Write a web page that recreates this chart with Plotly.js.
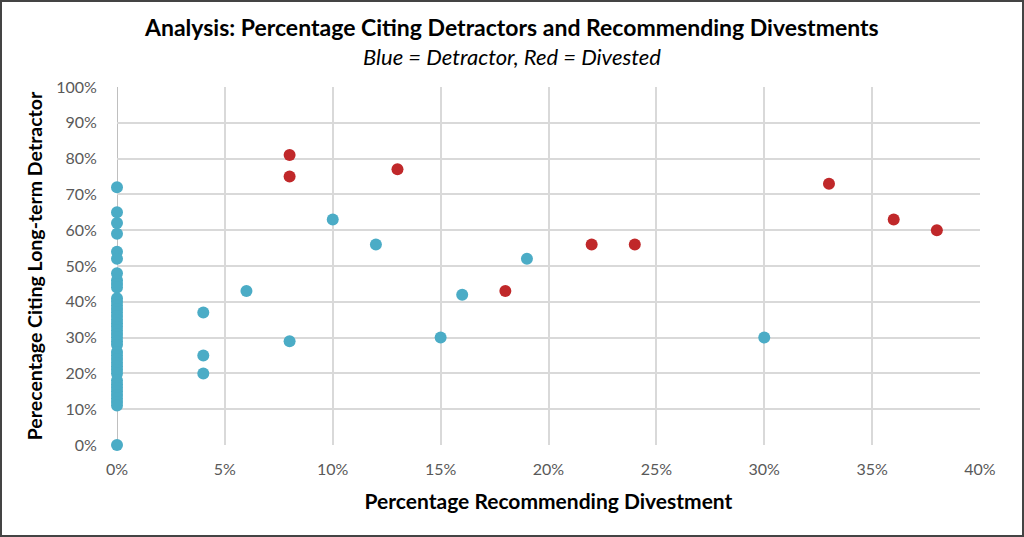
<!DOCTYPE html>
<html>
<head>
<meta charset="utf-8">
<script src="https://cdn.plot.ly/plotly-3.0.1.min.js"></script>
<style>
html,body{margin:0;padding:0;background:#fff;}
#wrap{position:relative;width:1024px;height:537px;}
#chart{width:1024px;height:537px;}
#frame{position:absolute;left:0;top:0;width:1024px;height:537px;box-sizing:border-box;border:2px solid #444;pointer-events:none;}
</style>
</head>
<body>
<div id="wrap"><div id="chart"></div><div id="frame"></div></div>
<script>
// Detractor (blue) series: percentage recommending divestment (x), percentage citing detractor (y)
const detractorX = [0,0,0,0,0,0,0,0,0,0,0,0,0,0,0,0,0,0,0,0,0,0,0,0,0,0,0,0,0,0,0,0,0,0,0,0,0,0,0,0,
                    4,4,4,6,8,10,12,15,16,19,30];
const detractorY = [72,65,62,59,54,52,48,46,45,44,41,40,39,38,37,36,35,34,33,32,31,30,29,28,26,25,24,23,22,21,20,18,17,16,15,14,13,12,11,0,
                    37,25,20,43,29,63,56,30,42,52,30];
// Divested (red) series
const divestedX = [8,8,13,18,22,24,33,36,38];
const divestedY = [81,75,77,43,56,56,73,63,60];

const xTicks = [0,5,10,15,20,25,30,35,40];
const yTicks = [0,10,20,30,40,50,60,70,80,90,100];

const blue = '#4BACC6';
const red = '#C0282A';

const traces = [
  {x: detractorX, y: detractorY, type: 'scatter', mode: 'markers', name: 'Detractor',
   cliponaxis: false, marker: {color: blue, size: 12}},
  {x: divestedX, y: divestedY, type: 'scatter', mode: 'markers', name: 'Divested',
   cliponaxis: false, marker: {color: red, size: 12}}
];

const tickFont = {family: 'Lato, sans-serif', size: 16, color: '#595959'};
const layout = {
  width: 1024, height: 537,
  margin: {l: 117, r: 44, t: 87, b: 92},
  paper_bgcolor: '#fff', plot_bgcolor: '#fff',
  showlegend: false,
  xaxis: {
    range: [0, 40], tickvals: xTicks, ticktext: xTicks.map(v => v + '%'),
    showgrid: true, gridcolor: '#d9d9d9', gridwidth: 2,
    zeroline: false, showline: false, ticks: 'outside', ticklen: 10, tickcolor: 'rgba(0,0,0,0)',
    tickfont: tickFont, automargin: false,
    title: {text: 'Percentage Recommending Divestment', standoff: 17,
            font: {family: 'Lato, sans-serif', size: 21, color: '#000', weight: 'bold'}}
  },
  yaxis: {
    range: [0, 100], tickvals: yTicks, ticktext: yTicks.map(v => v + '%'),
    showgrid: true, gridcolor: '#d9d9d9', gridwidth: 2,
    zeroline: false, showline: false, ticks: 'outside', ticklen: 16, tickcolor: 'rgba(0,0,0,0)',
    tickfont: tickFont, automargin: false,
    title: {text: 'Perecentage Citing Long-term Detractor', standoff: 8,
            font: {family: 'Lato, sans-serif', size: 19.5, color: '#000', weight: 'bold'}}
  },
  shapes: [
    {type: 'line', xref: 'x', yref: 'paper', x0: 0, x1: 0, y0: 0, y1: 1,
     line: {color: '#bfbfbf', width: 2}, layer: 'below'}
  ],
  annotations: [
    {text: '<b>Analysis: Percentage Citing Detractors and Recommending Divestments</b>',
     xref: 'paper', yref: 'paper', x: 0.4577, y: 1, yshift: 60, xanchor: 'center', yanchor: 'middle',
     showarrow: false, font: {family: 'Lato, sans-serif', size: 23, color: '#000'}},
    {text: '<i>Blue = Detractor, Red = Divested</i>',
     xref: 'paper', yref: 'paper', x: 0.4577, y: 1, yshift: 31, xanchor: 'center', yanchor: 'middle',
     showarrow: false, font: {family: 'Lato, sans-serif', size: 22, color: '#000'}}
  ]
};

Plotly.newPlot('chart', traces, layout, {displayModeBar: false, staticPlot: true});
</script>
</body>
</html>
